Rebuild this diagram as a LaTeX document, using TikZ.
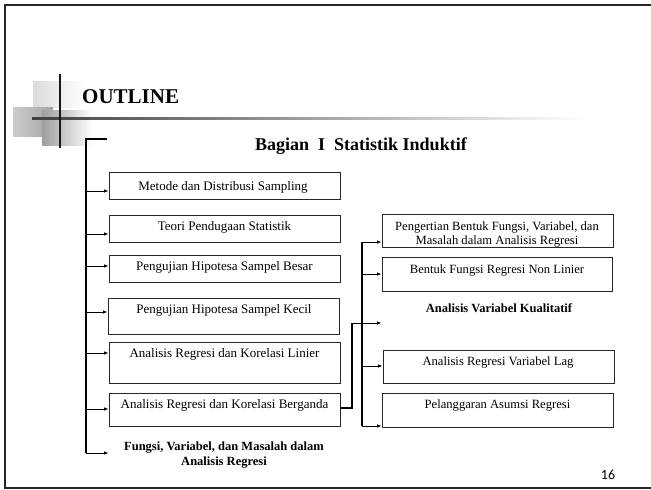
\documentclass[tikz,border=0pt]{standalone}
\usepackage{fontspec}
\setmainfont{Liberation Serif}
\newfontfamily\calib{Carlito}
\usetikzlibrary{arrows.meta}
\begin{document}
\begin{tikzpicture}[x=1pt,y=-1pt,
  box/.style={draw=black!85, line width=0.9pt, inner sep=0pt, minimum width=231pt},
  btxt/.style={font=\fontsize{13}{15}\selectfont, inner sep=0pt, align=center},
  rtxt/.style={font=\fontsize{12.6}{14}\selectfont, inner sep=0pt, align=center},
  bold/.style={font=\fontsize{12.5}{15}\selectfont\bfseries, inner sep=0pt, align=center},
  bar/.style={line width=2pt},
  arr/.style={line width=0.8pt, -{Latex[length=4.5pt,width=3.5pt]}},
]
\useasboundingbox (0,0) rectangle (651,490);
% frame
\draw[line width=2pt, black!85] (651,5) -- (5,5) -- (5,488) -- (651,488);
% title decoration
\shade[left color=black!14, right color=white] (33,81) rectangle (85,107);
\shade[left color=black!20, right color=black!36] (13,107) rectangle (53,136);
\shade[left color=black!38, right color=white] (42,110) rectangle (92,145);
\shade[left color=black!75, right color=white] (32,117) rectangle (583,119.2);
\draw[line width=2.5pt, black!90] (60,74) -- (60,148);
\node[font=\fontsize{21}{24}\selectfont\bfseries, inner sep=0pt, anchor=base west] (outline) at (82,103) {OUTLINE};
\node[font=\fontsize{18}{20}\selectfont\bfseries, inner sep=0pt, anchor=base west] (bagian) at (255,150) {Bagian\ \ I\ \ Statistik Induktif};
% left column boxes
\node[box, minimum height=27pt] (b1) at (224.5,185.5) {};
\node[box, minimum height=27pt] (b2) at (224.5,228.5) {};
\node[box, minimum height=27pt] (b3) at (224.5,268.5) {};
\node[box, minimum height=36pt] (b4) at (223.5,316) {};
\node[box, minimum height=41pt] (b5) at (224.5,362.5) {};
\node[box, minimum height=33pt] (b6) at (224.5,409.5) {};
\node[btxt] (t1) at (223,187) {Metode dan Distribusi Sampling};
\node[btxt] (t2) at (224.5,227) {Teori Pendugaan Statistik};
\node[btxt] (t3) at (224.5,267) {Pengujian Hipotesa Sampel Besar};
\node[btxt] (t4) at (224,310) {Pengujian Hipotesa Sampel Kecil};
\node[btxt] (t5) at (224.5,354) {Analisis Regresi dan Korelasi Linier};
\node[btxt] (t6) at (224.5,405) {Analisis Regresi dan Korelasi Berganda};
\node[bold] (fv) at (224,455.5) {Fungsi, Variabel, dan Masalah dalam\\Analisis Regresi};
% right column boxes
\node[box, minimum height=33pt] (r1) at (497.5,230.5) {};
\node[box, minimum height=34pt, minimum width=230pt] (r2) at (497,274) {};
\node[box, minimum height=33pt] (r3) at (498.5,366.5) {};
\node[box, minimum height=34pt] (r4) at (497.5,410) {};
\node[rtxt, font=\fontsize{12.6}{14}\selectfont] (s1) at (497,234) {Pengertian Bentuk Fungsi, Variabel, dan\\Masalah dalam Analisis Regresi};
\node[rtxt] (s2) at (497,270) {Bentuk Fungsi Regresi Non Linier};
\node[bold] (kv) at (499,308) {Analisis Variabel Kualitatif};
\node[rtxt] (s3) at (498,362) {Analisis Regresi Variabel Lag};
\node[rtxt] (s4) at (497.5,405) {Pelanggaran Asumsi Regresi};
% left bracket bar
\coordinate (ltop) at (86,139);
\coordinate (lbot) at (86,453);
\draw[bar] (107,139) -- (ltop) -- (lbot);
\draw[arr] (ltop |- 0,191) -- (b1.west |- 0,191);
\draw[arr] (ltop |- 0,234) -- (b2.west |- 0,234);
\draw[arr] (ltop |- 0,266) -- (b3.west |- 0,266);
\draw[arr] (ltop |- 0,312) -- (b4.west |- 0,312);
\draw[arr] (ltop |- 0,353) -- (b5.west |- 0,353);
\draw[arr] (ltop |- 0,409) -- (b6.west |- 0,409);
\draw[arr] (lbot) -- (b6.west |- lbot);
% right bracket bar
\coordinate (rtop) at (362,242);
\coordinate (rbot) at (362,426);
\draw[bar] (rtop) -- (rbot);
\draw[arr] (rtop) -- (r1.west |- rtop);
\draw[arr] (rtop |- 0,274) -- (r2.west |- 0,274);
\draw[arr] (rtop |- 0,366) -- (r3.west |- 0,366);
\draw[arr] (rbot) -- (r4.west |- rbot);
% link from b6 to right column
\coordinate (lk) at (352,323);
\draw[bar] (b6.east |- 0,408) -- (lk |- 0,408) -- (lk);
\draw[arr] (lk) -- (r2.west |- lk);
% page number
\node[font=\calib\fontsize{14}{16}\selectfont, inner sep=0pt] (pg) at (608,475) {16};
\end{tikzpicture}
\end{document}
